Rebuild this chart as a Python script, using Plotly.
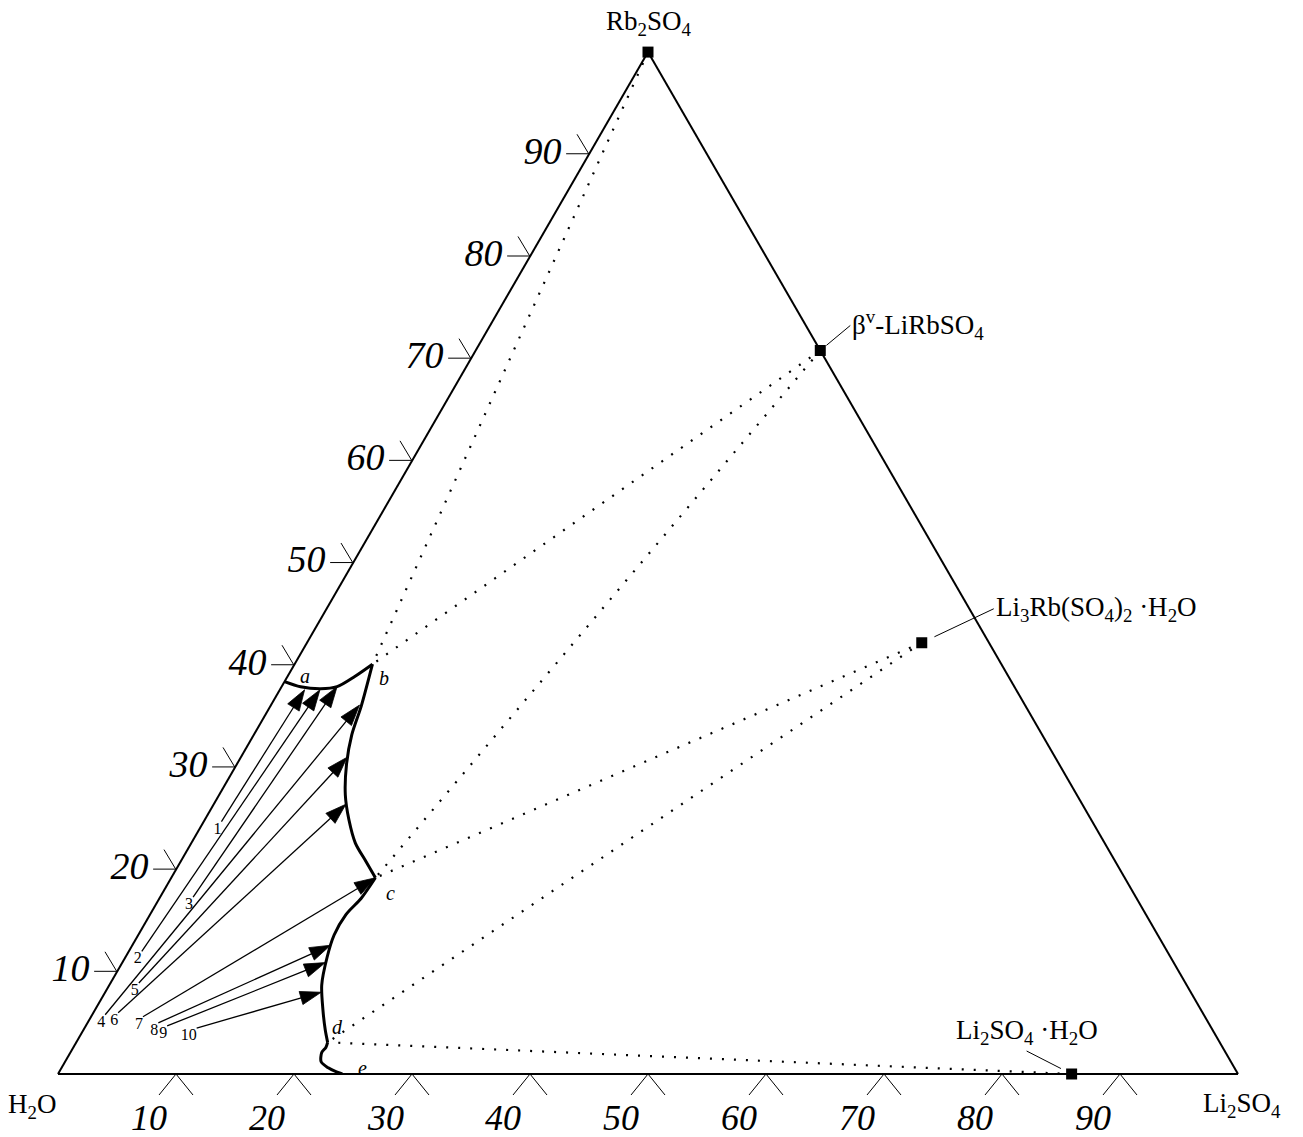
import plotly.graph_objects as go
import math

# ---------------- data (mass %, a = Rb2SO4, b = H2O, c = Li2SO4) ----------------
tick_vals = [10, 20, 30, 40, 50, 60, 70, 80, 90]
tick_text = ["10", "20", "30", "40", "50", "60", "70", "80", "90"]

# univariant curves (Rb2SO4 %, Li2SO4 %)
curve_ab_rb = [38.4, 37.9, 37.7, 37.9, 38.9, 40.1]
curve_ab_li = [0.0, 1.6, 3.4, 4.7, 5.7, 6.6]
curve_bc_rb = [40.1, 36.0, 33.2, 30.3, 27.3, 24.9, 22.6, 20.8, 19.2]
curve_bc_li = [6.6, 7.7, 8.3, 9.3, 10.7, 12.2, 13.9, 15.7, 17.3]
curve_cd_rb = [19.2, 17.2, 15.6, 13.6, 11.4, 8.7, 6.3, 4.3, 3.1]
curve_cd_li = [17.3, 17.1, 16.6, 16.6, 17.1, 18.0, 19.3, 20.5, 21.3]
curve_de_rb = [3.1, 2.6, 2.1, 1.2, 0.6, 0.2, 0.0]
curve_de_li = [21.3, 21.4, 21.3, 21.7, 22.6, 23.5, 24.1]

# invariant points
inv_labels = ["a", "b", "c", "d", "e"]
inv_rb = [38.4, 40.1, 19.2, 3.1, 0.0]
inv_li = [0.0, 6.6, 17.3, 21.3, 24.1]

# solid phases
solid_names = ["Rb<sub>2</sub>SO<sub>4</sub>",
               "β<sup>v</sup>-LiRbSO<sub>4</sub>",
               "Li<sub>3</sub>Rb(SO<sub>4</sub>)<sub>2</sub> ·H<sub>2</sub>O",
               "Li<sub>2</sub>SO<sub>4</sub> ·H<sub>2</sub>O"]
solid_rb = [100.0, 70.8, 42.2, 0.0]
solid_li = [0.0, 29.2, 52.1, 85.9]

# dotted tie lines: (solid index, invariant index)
tie_pairs = [(0, 1), (1, 1), (1, 2), (2, 2), (2, 3), (3, 3), (3, 4)]

# experimental routes (start point -> point on curve)
route_labels = ["1", "2", "3", "4", "5", "6", "7", "8", "9", "10"]
start_rb = [24.7, 12.0, 17.3, 5.8, 8.9, 6.0, 5.6, 5.0, 4.7, 4.5]
start_li = [1.5, 1.1, 2.8, 1.1, 2.4, 2.1, 4.4, 6.0, 6.9, 9.5]
end_rb = [37.6, 37.6, 37.9, 36.1, 31.0, 26.4, 19.2, 12.6, 10.9, 8.0]
end_li = [2.1, 3.4, 4.7, 7.5, 9.0, 11.2, 17.3, 16.8, 17.2, 18.3]

corner_names = ["H<sub>2</sub>O", "Li<sub>2</sub>SO<sub>4</sub>"]

# ---------------- layout geometry ----------------
W, H = 1303, 1137
tri_left, tri_right, tri_bottom = 50, 1230, 1066
side = tri_right - tri_left
tri_top = tri_bottom - side * math.sqrt(3) / 2
DX = [tri_left / W, tri_right / W]
DY = [(H - tri_bottom) / H, (H - tri_top) / H]


def to_paper(rb, li):
    a, c = rb / 100.0, li / 100.0
    return (DX[0] + (c + a / 2) * (DX[1] - DX[0]),
            DY[0] + a * (DY[1] - DY[0]))


def h2o(rb, li):
    return [100 - r - l for r, l in zip(rb, li)]


SERIF = "Liberation Serif"
fig = go.Figure()

# dotted connodes
for si, ii in tie_pairs:
    rb = [solid_rb[si], inv_rb[ii]]
    li = [solid_li[si], inv_li[ii]]
    fig.add_trace(go.Scatterternary(
        a=rb, b=h2o(rb, li), c=li, mode="lines",
        line=dict(color="black", width=2.2, dash="2px,10px"),
        hoverinfo="skip", showlegend=False))

# solubility curves
for rb, li in [(curve_ab_rb, curve_ab_li), (curve_bc_rb, curve_bc_li),
               (curve_cd_rb, curve_cd_li), (curve_de_rb, curve_de_li)]:
    fig.add_trace(go.Scatterternary(
        a=rb, b=h2o(rb, li), c=li, mode="lines",
        line=dict(color="black", width=3, shape="spline", smoothing=0.8),
        hoverinfo="skip", showlegend=False))

# experimental routes with arrowheads
for i in range(len(route_labels)):
    rb = [start_rb[i], end_rb[i]]
    li = [start_li[i], end_li[i]]
    fig.add_trace(go.Scatterternary(
        a=rb, b=h2o(rb, li), c=li, mode="lines+markers",
        line=dict(color="black", width=1.3),
        marker=dict(symbol=["circle", "arrow"], size=[0, 22], opacity=1,
                    angleref="previous", color="black",
                    line=dict(color="black", width=0.8)),
        hoverinfo="skip", showlegend=False))

# route numbers
fig.add_trace(go.Scatterternary(
    a=start_rb, b=h2o(start_rb, start_li), c=start_li, mode="text",
    text=route_labels, textposition="bottom left",
    textfont=dict(family=SERIF, size=16, color="black"),
    hoverinfo="skip", showlegend=False, cliponaxis=False))

# solid phase markers
fig.add_trace(go.Scatterternary(
    a=solid_rb, b=h2o(solid_rb, solid_li), c=solid_li, mode="markers",
    marker=dict(symbol="square", size=11, color="black"),
    hoverinfo="skip", showlegend=False, cliponaxis=False))

axis_common = dict(min=0, showgrid=False, showline=True, linecolor="black",
                   linewidth=2, tickcolor="black", title=dict(text=""))
tick_font = dict(family=SERIF, size=38, color="black", style="italic")

fig.update_layout(
    width=W, height=H,
    margin=dict(l=0, r=0, t=0, b=0, autoexpand=False),
    paper_bgcolor="white",
    hovermode=False,
    font=dict(family=SERIF, color="black"),
    ternary=dict(
        sum=100,
        domain=dict(x=DX, y=DY),
        bgcolor="white",
        aaxis=dict(axis_common, tickmode="array", tickvals=tick_vals, ticktext=tick_text,
                   ticks="outside", ticklen=22, tickwidth=1, tickfont=tick_font),
        baxis=dict(axis_common, ticks="", showticklabels=False),
        caxis=dict(axis_common, ticks="", showticklabels=False),
    ),
)


def stroke(rb, li, dx_px, dy_px):
    """short tick stroke starting on the triangle edge, offset given in pixels"""
    x, y = to_paper(rb, li)
    fig.add_shape(type="line", xref="paper", yref="paper",
                  x0=x, y0=y, x1=x + dx_px / W, y1=y - dy_px / H,
                  line=dict(color="black", width=1))


# extra slanted tick strokes on the Rb2SO4 axis
for v in tick_vals:
    stroke(v, 0, -12, -20)

# Li2SO4 axis ticks (two strokes) and labels along the bottom edge
for v, t in zip(tick_vals, tick_text):
    stroke(0, v, -17, 21)
    stroke(0, v, 17, 21)
    x, y = to_paper(0, v)
    fig.add_annotation(x=x, y=y, xref="paper", yref="paper", text=t,
                       showarrow=False, xanchor="center", yanchor="middle",
                       xshift=-27, yshift=-44,
                       font=dict(family=SERIF, size=36, color="black", style="italic"))

# invariant point labels
inv_shift = [(20, 6), (12, -14), (15, -15), (10, 15), (20, 6)]
for lab, rb, li, (sx, sy) in zip(inv_labels, inv_rb, inv_li, inv_shift):
    x, y = to_paper(rb, li)
    fig.add_annotation(x=x, y=y, xref="paper", yref="paper", text=lab,
                       showarrow=False, xanchor="center", yanchor="middle",
                       xshift=sx, yshift=sy,
                       font=dict(family=SERIF, size=20, color="black", style="italic"))

# corner labels
lab_font = dict(family=SERIF, size=27, color="black")
x, y = to_paper(100, 0)
fig.add_annotation(x=x, y=y, xref="paper", yref="paper", text=solid_names[0],
                   showarrow=False, xanchor="center", yanchor="middle",
                   yshift=29, font=lab_font)
x, y = to_paper(0, 0)
fig.add_annotation(x=x, y=y, xref="paper", yref="paper", text=corner_names[0],
                   showarrow=False, xanchor="center", yanchor="middle",
                   xshift=-26, yshift=-32, font=lab_font)
x, y = to_paper(0, 100)
fig.add_annotation(x=x, y=y, xref="paper", yref="paper", text=corner_names[1],
                   showarrow=False, xanchor="center", yanchor="middle",
                   xshift=4, yshift=-31, font=lab_font)

# solid phase labels with leader lines
leader = [(1, 30, -25, "left", "middle", 8),
          (2, 72, -34, "left", "middle", 14),
          (3, -45, -23, "center", "bottom", 12)]
for si, ax, ay, xa, ya, so in leader:
    x, y = to_paper(solid_rb[si], solid_li[si])
    fig.add_annotation(x=x, y=y, xref="paper", yref="paper", text=solid_names[si],
                       showarrow=True, arrowhead=0, arrowwidth=1, arrowcolor="black",
                       ax=ax, ay=ay, xanchor=xa, yanchor=ya, standoff=so,
                       font=lab_font)

fig.write_html("out.html")
